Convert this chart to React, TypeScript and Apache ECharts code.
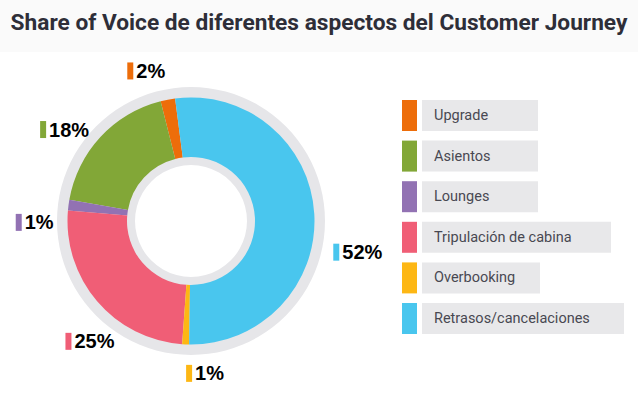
import React, { useEffect, useRef } from "react";
import * as echarts from "echarts";

const titleText = "Share of Voice de diferentes aspectos del Customer Journey";
const categories = [
  "Upgrade",
  "Asientos",
  "Lounges",
  "Tripulación de cabina",
  "Overbooking",
  "Retrasos/cancelaciones",
];
const shareValues = [1.9, 18.3, 1.4, 25.2, 0.9, 52.3];
const sliceColors = ["#ed6d0a", "#82a737", "#9272b3", "#f05e76", "#fdb714", "#49c6ee"];

export default function App() {
  const ref = useRef<HTMLDivElement>(null);

  useEffect(() => {
    if (!ref.current) return;
    const chart = echarts.init(ref.current, undefined, { renderer: "svg" });

    // legend box widths and small label nudges (layout only)
    const legendBoxWidths = [104, 104, 104, 177, 106, 190];
    const labelNudges = [
      [11, -15],
      [10, 2],
      [10, 19],
      [39, 31],
      [50, 15],
      [-6, 39],
    ];

    const rich: Record<string, any> = {
      val: {
        fontFamily: "Liberation Sans, Arial, sans-serif",
        fontWeight: "bold",
        fontSize: 20,
        color: "#000",
        padding: [0, 0, 0, 3],
      },
    };
    sliceColors.forEach((c, i) => {
      rich["b" + i] = { width: 6, height: 17, backgroundColor: c };
    });

    chart.setOption({
      animation: false,
      backgroundColor: "#ffffff",
      graphic: [
        {
          type: "rect",
          z: -10,
          shape: { x: 0, y: 0, width: 638, height: 52 },
          style: { fill: "#fafafa" },
        },
      ],
      title: {
        text: titleText,
        left: "center",
        top: 6,
        textStyle: {
          fontFamily: "Roboto",
          fontWeight: "bold",
          fontSize: 22.7,
          color: "#2e2e38",
        },
      },
      legend: {
        orient: "vertical",
        left: 397,
        top: 95,
        itemWidth: 15,
        itemHeight: 31,
        itemGap: 9.6,
        icon: "rect",
        selectedMode: false,
        data: categories.map((name, i) => ({
          name,
          textStyle: { width: legendBoxWidths[i] },
        })),
        textStyle: {
          fontFamily: "Roboto",
          fontSize: 14.5,
          color: "#484852",
          backgroundColor: "#e8e8ea",
          padding: [8, 0, 8, 12],
          height: 15,
          lineHeight: 15,
        },
      },
      series: [
        {
          type: "pie",
          silent: true,
          center: [191, 221],
          radius: [56, 134],
          z: 1,
          label: { show: false },
          labelLine: { show: false },
          data: [{ value: 1, name: "fondo", itemStyle: { color: "#e6e6e9" } }],
        },
        {
          type: "pie",
          center: [191, 221],
          radius: [64, 123.5],
          startAngle: 97.4,
          clockwise: false,
          z: 2,
          emphasis: { disabled: true },
          data: categories.map((name, i) => ({
            name,
            value: shareValues[i],
            itemStyle: { color: sliceColors[i] },
          })),
          label: {
            show: true,
            position: "outside",
            overflow: "none",
            formatter: (p: any) => `{b${p.dataIndex}|}{val|${Math.round(p.percent)}%}`,
            rich,
          },
          labelLine: { show: false, length: 14, length2: 6 },
          labelLayout: (params: any) => {
            const n = labelNudges[params.dataIndex] || [0, 0];
            return { dx: n[0], dy: n[1] };
          },
        },
      ],
    });

    return () => chart.dispose();
  }, []);

  return (
    <div
      ref={ref}
      style={{ position: "fixed", left: 0, top: 0, width: 638, height: 399 }}
    />
  );
}
